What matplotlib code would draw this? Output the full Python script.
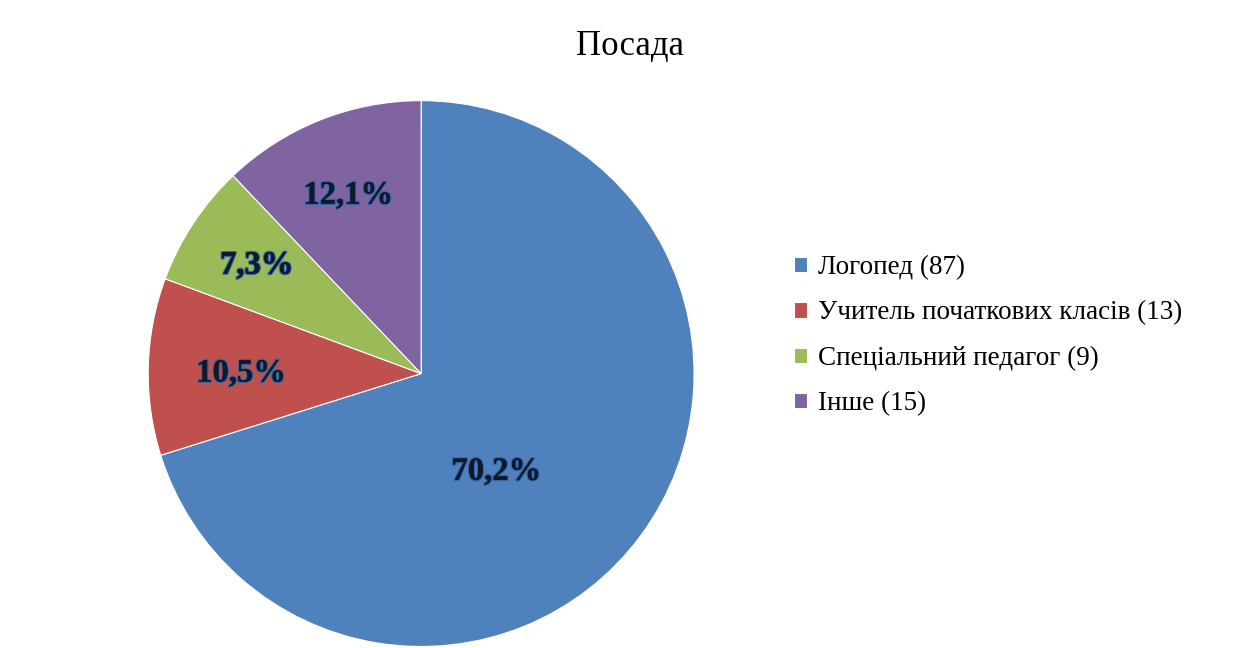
import numpy as np
import matplotlib.pyplot as plt
import matplotlib.patheffects as pe

plt.rcParams['font.family'] = ['Liberation Serif', 'DejaVu Serif']

# data
categories = ['Логопед', 'Учитель початкових класів', 'Спеціальний педагог', 'Інше']
counts = [87, 13, 9, 15]
pct_labels = ['70,2%', '10,5%', '7,3%', '12,1%']
colors = ['#4f81bd', '#c0504d', '#9bbb59', '#8064a2']

# label placement (fraction of radius, angle shift in degrees)
label_dist = [0.44, 0.66, 0.73, 0.72]
label_shift = [-15, 0, -1, 0]

fig = plt.figure(figsize=(12.35, 6.48), dpi=100)
ax = fig.add_axes([0.120, 0.002, 0.442, 0.843])

wedges, _ = ax.pie(counts, colors=colors, startangle=90, counterclock=False,
                   radius=1.0, wedgeprops=dict(linewidth=0.8, edgecolor='white'))
ax.set_xlim(-1, 1)
ax.set_ylim(-1, 1)
ax.set_aspect('equal')

for w, lab, d, s in zip(wedges, pct_labels, label_dist, label_shift):
    mid = np.deg2rad((w.theta1 + w.theta2) / 2 + s)
    t = ax.text(d * np.cos(mid), d * np.sin(mid) - 0.015, lab, ha='center', va='center',
                fontsize=23.5, fontweight='bold', color='#0e1a2c')
    t.set_path_effects([pe.withStroke(linewidth=1.8, foreground='#3465a4'), pe.Normal()])

fig.text(0.51, 0.929, 'Посада', ha='center', va='center', fontsize=25)

legend_labels = [f'{c} ({n})' for c, n in zip(categories, counts)]
fig.legend(wedges, legend_labels, loc='center left', bbox_to_anchor=(0.623, 0.482),
           frameon=False, fontsize=19.5, handlelength=0.5, handleheight=0.5,
           handletextpad=0.4, labelspacing=0.75)

fig.savefig('out.png', dpi=100, facecolor='white')
